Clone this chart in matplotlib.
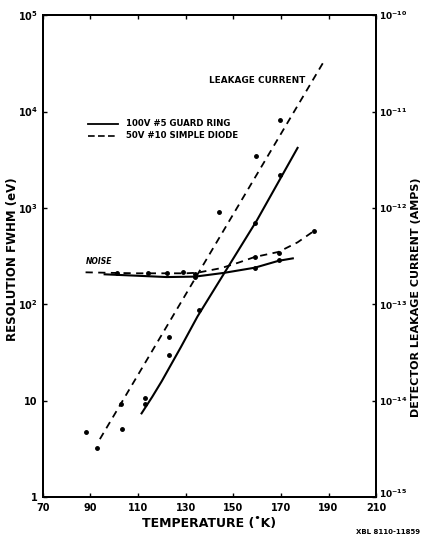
import matplotlib
matplotlib.use("Agg")
import matplotlib.pyplot as plt
import matplotlib.transforms as mtransforms
from matplotlib.ticker import FixedLocator

plt.rcParams['font.family'] = ['DejaVu Sans']
plt.rcParams['font.weight'] = 'bold'

# temperature axis (K)
x_ticks = [70, 90, 110, 130, 150, 170, 190, 210]
x_minor = [80, 100, 120, 140, 160, 180, 200]

# left axis: resolution FWHM (eV)
left_ticks = [1, 10, 1e2, 1e3, 1e4, 1e5]
left_labels = ['1', '10', '$10^2$', '$10^3$', '$10^4$', '$10^5$']
# right axis: leakage current (A)
right_ticks = [1e-15, 1e-14, 1e-13, 1e-12, 1e-11, 1e-10]
right_labels = ['$10^{-15}$', '$10^{-14}$', '$10^{-13}$', '$10^{-12}$', '$10^{-11}$', '$10^{-10}$']

# noise curves (eV)
noise_diode_T = [88, 100, 110, 120, 130, 135, 145, 152, 159, 169, 177, 184]
noise_diode_v = [215, 212, 210, 210, 210, 213, 238, 270, 310, 350, 440, 580]
noise_guard_T = [96, 110, 122, 134, 146, 159, 169, 175]
noise_guard_v = [205, 198, 192, 194, 212, 240, 283, 300]
noise_pts_T = [101, 114, 122, 129, 134, 134, 159, 159, 169, 169, 184]
noise_pts_v = [214, 213, 214, 215, 205, 190, 311, 241, 345, 288, 579]

# leakage current fits (A)
leak_diode_T = [94, 188]
leak_diode_v = [4.0e-15, 3.3e-11]
leak_guard_T = [111.5, 116, 120, 128, 135, 160, 177]
leak_guard_v = [7.4e-15, 1.1e-14, 1.6e-14, 3.6e-14, 7.5e-14, 7.5e-13, 4.2e-12]
# leakage measurements (A)
leak_pts_T = [88, 93, 103, 103.5, 113, 113, 123, 123, 135.5, 144, 159, 159.5, 169.7, 169.7]
leak_pts_v = [4.7e-15, 3.2e-15, 9.2e-15, 5.1e-15, 1.06e-14, 9.2e-15, 4.6e-14, 3.0e-14,
              8.7e-14, 9.0e-13, 6.9e-13, 3.5e-12, 2.2e-12, 8.1e-12]

fig = plt.figure(figsize=(4.27, 5.41), dpi=100)
ax = fig.add_axes([0.100, 0.081, 0.781, 0.891])
ax2 = ax.twinx()

ax.set_xlim(70, 210)
ax.set_yscale('log')
ax.set_ylim(1, 1e5)
ax2.set_yscale('log')
ax2.set_ylim(1e-15, 1e-10)

ax.plot(noise_diode_T, noise_diode_v, color='black', lw=1.3, ls=(0, (4, 3)))
ax.plot(noise_guard_T, noise_guard_v, color='black', lw=1.5)
ax.plot(noise_pts_T, noise_pts_v, 'o', color='black', ms=2.5)

ax2.plot(leak_diode_T, leak_diode_v, color='black', lw=1.3, ls=(0, (4, 3)))
ax2.plot(leak_guard_T, leak_guard_v, color='black', lw=1.5)
ax2.plot(leak_pts_T, leak_pts_v, 'o', color='black', ms=2.5)

ax.xaxis.set_major_locator(FixedLocator(x_ticks))
ax.set_xticklabels([str(t) for t in x_ticks], fontsize=7, fontweight='bold')
ax.set_yticks(left_ticks)
ax.set_yticklabels(left_labels, fontsize=7, fontweight='bold')
ax.minorticks_off()
ax.xaxis.set_minor_locator(FixedLocator(x_minor))
ax.tick_params(axis='both', which='both', direction='in', length=3, width=1, top=True)
ax.tick_params(axis='x', pad=4)

ax2.set_yticks(right_ticks)
ax2.set_yticklabels(right_labels, fontsize=6.5, fontweight='bold')
ax2.minorticks_off()
ax2.tick_params(axis='y', direction='in', length=3, width=1, pad=2)
# lift the bottom right label a little, clear of the "210"
lbl = ax2.get_yticklabels()[0]
lbl.set_transform(lbl.get_transform() + mtransforms.ScaledTranslation(0, 3 / 72, fig.dpi_scale_trans))

for a in (ax, ax2):
    for s in a.spines.values():
        s.set_linewidth(1.4)

ax.set_xlabel('TEMPERATURE (˚K)', fontsize=9, fontweight='bold', labelpad=3)
fig.text(0.030, 0.52, 'RESOLUTION FWHM (eV)', fontsize=8.5, fontweight='bold',
         rotation=90, ha='center', va='center')
fig.text(0.975, 0.45, 'DETECTOR LEAKAGE CURRENT (AMPS)', fontsize=8, fontweight='bold',
         rotation=90, ha='center', va='center')

ax.text(0.50, 0.865, 'LEAKAGE CURRENT', transform=ax.transAxes, fontsize=6.4,
        fontweight='bold', ha='left', va='center')
ax.text(0.128, 0.480, 'NOISE', transform=ax.transAxes, fontsize=5.5,
        fontweight='bold', fontstyle='italic', ha='left', va='bottom')

# legend drawn by hand
ax.plot([0.135, 0.225], [0.775, 0.775], transform=ax.transAxes, color='black', lw=1.3)
ax.plot([0.135, 0.225], [0.750, 0.750], transform=ax.transAxes, color='black', lw=1.2,
        ls=(0, (4, 2)))
ax.text(0.25, 0.775, '100V #5 GUARD RING', transform=ax.transAxes, fontsize=6.2,
        fontweight='bold', va='center')
ax.text(0.25, 0.750, '50V #10 SIMPLE DIODE', transform=ax.transAxes, fontsize=6.2,
        fontweight='bold', va='center')

fig.text(0.985, 0.012, 'XBL 8110-11859', fontsize=5, fontweight='bold', ha='right', va='bottom')

fig.savefig('out.png', dpi=100)
